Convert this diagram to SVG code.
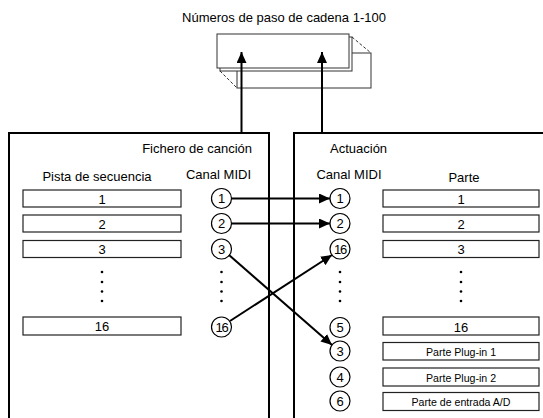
<svg xmlns="http://www.w3.org/2000/svg" width="543" height="418" viewBox="0 0 543 418">
<style>
text{font-family:"Liberation Sans",Arial,sans-serif;font-size:13px;fill:#000}
.c{text-anchor:middle}
.s{font-size:10.6px}
.box{fill:#fff;stroke:#000;stroke-width:2}
.row{fill:#fff;stroke:#222;stroke-width:1.2}
.ch{fill:#fff;stroke:#000;stroke-width:1.2}
.sheet{fill:#fff;stroke:#333;stroke-width:1}
.dash{stroke:#333;stroke-width:1;stroke-dasharray:3 2;fill:none}
.ln{stroke:#000;stroke-width:2;fill:none}
.dot{fill:#000}
</style>
<defs>
<marker id="ah" markerUnits="userSpaceOnUse" markerWidth="12" markerHeight="10" refX="11" refY="5" orient="auto">
<path d="M0,0 L11,5 L0,10 Z" fill="#000"/>
</marker>
</defs>

<text class="c" x="284" y="22">Números de paso de cadena 1-100</text>

<g id="stack">
<rect class="sheet" x="237" y="53" width="134" height="35"/>
<rect class="sheet" x="220" y="37" width="132" height="34"/>
<rect class="sheet" x="217" y="34" width="132" height="34"/>
<line class="dash" x1="220" y1="71" x2="237" y2="88"/>
<line class="dash" x1="352" y1="37" x2="371" y2="53"/>
</g>

<g id="song-file">
<rect class="box" x="9" y="133" width="260" height="300"/>
<text x="252" y="153" text-anchor="end">Fichero de canción</text>
<text class="c" x="97" y="181">Pista de secuencia</text>
<text class="c" x="218.5" y="179">Canal MIDI</text>
<g id="tracks">
<rect class="row" x="23" y="190" width="158" height="17"/><text class="c" x="102" y="203.5">1</text>
<rect class="row" x="23" y="215" width="158" height="17"/><text class="c" x="102" y="228.5">2</text>
<rect class="row" x="23" y="240.5" width="158" height="17"/><text class="c" x="102" y="254">3</text>
<rect class="row" x="23" y="317" width="158" height="18"/><text class="c" x="102" y="331">16</text>
<circle class="dot" cx="102" cy="272" r="1.3"/><circle class="dot" cx="102" cy="282" r="1.3"/><circle class="dot" cx="102" cy="291.5" r="1.3"/><circle class="dot" cx="102" cy="301" r="1.3"/>
</g>
<g id="song-channels">
<circle class="ch" cx="221.5" cy="198.5" r="10"/><text class="c" x="221.5" y="203">1</text>
<circle class="ch" cx="221.5" cy="223.5" r="10"/><text class="c" x="221.5" y="228">2</text>
<circle class="ch" cx="221.5" cy="249" r="10"/><text class="c" x="221.5" y="253.5">3</text>
<circle class="ch" cx="221.5" cy="327" r="10"/><text class="c" x="221.5" y="331.5" font-size="12" letter-spacing="-1.2">16</text>
<circle class="dot" cx="221.5" cy="272" r="1.3"/><circle class="dot" cx="221.5" cy="282" r="1.3"/><circle class="dot" cx="221.5" cy="291.5" r="1.3"/><circle class="dot" cx="221.5" cy="301" r="1.3"/>
</g>
</g>

<g id="performance">
<rect class="box" x="294" y="133" width="260" height="300"/>
<text x="330" y="153">Actuación</text>
<text class="c" x="349" y="179">Canal MIDI</text>
<text class="c" x="464" y="182">Parte</text>
<g id="parts">
<rect class="row" x="383" y="190" width="156" height="17"/><text class="c" x="461" y="203.5">1</text>
<rect class="row" x="383" y="215" width="156" height="17"/><text class="c" x="461" y="228.5">2</text>
<rect class="row" x="383" y="240.5" width="156" height="17"/><text class="c" x="461" y="254">3</text>
<rect class="row" x="383" y="317" width="156" height="18"/><text class="c" x="461" y="331.5" font-size="14">16</text>
<rect class="row" x="383" y="342.5" width="156" height="17.5"/><text class="c s" x="461" y="356">Parte Plug-in 1</text>
<rect class="row" x="383" y="368" width="156" height="18"/><text class="c s" x="461" y="381.5">Parte Plug-in 2</text>
<rect class="row" x="383" y="392.5" width="156" height="18"/><text class="c s" x="461" y="406">Parte de entrada A/D</text>
<circle class="dot" cx="461" cy="272" r="1.3"/><circle class="dot" cx="461" cy="282" r="1.3"/><circle class="dot" cx="461" cy="291.5" r="1.3"/><circle class="dot" cx="461" cy="301" r="1.3"/>
</g>
<g id="perf-channels">
<circle class="ch" cx="340" cy="198.5" r="10"/><text class="c" x="340" y="203">1</text>
<circle class="ch" cx="340" cy="223.5" r="10"/><text class="c" x="340" y="228">2</text>
<circle class="ch" cx="340" cy="249" r="10"/><text class="c" x="340" y="253.5" font-size="12" letter-spacing="-1.2">16</text>
<circle class="ch" cx="340" cy="327.5" r="10"/><text class="c" x="340" y="332">5</text>
<circle class="ch" cx="340" cy="351" r="10"/><text class="c" x="340" y="355.5">3</text>
<circle class="ch" cx="340" cy="377" r="10"/><text class="c" x="340" y="381.5">4</text>
<circle class="ch" cx="340" cy="401" r="10"/><text class="c" x="340" y="405.5">6</text>
<circle class="dot" cx="340" cy="272" r="1.3"/><circle class="dot" cx="340" cy="282" r="1.3"/><circle class="dot" cx="340" cy="291.5" r="1.3"/><circle class="dot" cx="340" cy="301" r="1.3"/>
</g>
</g>

<g id="connectors">
<line class="ln" x1="241.5" y1="133" x2="241.5" y2="52" marker-end="url(#ah)"/>
<line class="ln" x1="322" y1="133" x2="322" y2="52" marker-end="url(#ah)"/>
<line class="ln" x1="231.5" y1="198.5" x2="330" y2="198.5" marker-end="url(#ah)"/>
<line class="ln" x1="231.5" y1="223.5" x2="330" y2="223.5" marker-end="url(#ah)"/>
<line class="ln" x1="229" y1="255" x2="332" y2="345" marker-end="url(#ah)"/>
<line class="ln" x1="230" y1="321" x2="332" y2="255" marker-end="url(#ah)"/>
</g>
</svg>
